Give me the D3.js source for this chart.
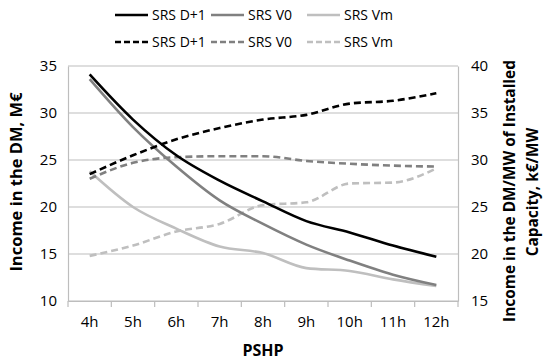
<!DOCTYPE html>
<meta charset="utf-8">
<script src="https://d3js.org/d3.v7.min.js"></script>
<style>
  body { margin: 0; background: #fff; }
  text { font-family: "Open Sans", "Liberation Sans", sans-serif; fill: #000; }
</style>
<div id="chart"></div>
<script>

// categories
var hours = ["4h", "5h", "6h", "7h", "8h", "9h", "10h", "11h", "12h"]

// income in the DM, M€ (left axis)
var srsD1 = [34.1, 29.3, 25.5, 22.8, 20.6, 18.5, 17.3, 15.9, 14.7]
var srsV0 = [33.6, 28.5, 24.3, 20.7, 18.2, 16.0, 14.3, 12.8, 11.7]
var srsVm = [23.8, 20.0, 17.7, 15.8, 15.1, 13.5, 13.2, 12.3, 11.6]

// income per MW of installed capacity, k€/MW (right axis)
var srsD1mw = [28.5, 30.5, 32.2, 33.4, 34.3, 34.8, 36.0, 36.3, 37.1]
var srsV0mw = [28.0, 29.7, 30.3, 30.4, 30.4, 29.9, 29.6, 29.4, 29.3]
var srsVmmw = [19.8, 20.9, 22.4, 23.2, 25.2, 25.5, 27.5, 27.6, 29.1]

var leftTicks = [10, 15, 20, 25, 30, 35]
var rightTicks = [15, 20, 25, 30, 35, 40]

var width = 550, height = 363
var m = { left: 68, right: 458, top: 66, bottom: 301 }

var svg = d3.select("#chart").append("svg")
  .attr("width", width)
  .attr("height", height)

var x = d3.scaleBand().domain(hours).range([m.left, m.right])
var yL = d3.scaleLinear().domain([10, 35]).range([m.bottom, m.top])
var yR = d3.scaleLinear().domain([15, 40]).range([m.bottom, m.top])

var gridColor = "#bdbdbd"

// gridlines
svg.append("g").selectAll("line")
  .data(leftTicks)
  .enter().append("line")
    .attr("x1", m.left).attr("x2", m.right)
    .attr("y1", function(d){ return yL(d) })
    .attr("y2", function(d){ return yL(d) })
    .attr("stroke", gridColor)
    .attr("stroke-width", 1.2)

// left axis
var gl = svg.append("g").attr("transform", "translate(" + m.left + ",0)")
  .call(d3.axisLeft(yL).tickValues(leftTicks).tickSize(0).tickPadding(11))
gl.select(".domain").attr("stroke", gridColor).attr("stroke-width", 1.2)
gl.selectAll("text").style("font-size", "15px").style("font-family", "'Open Sans', sans-serif")

// right axis
var gr = svg.append("g").attr("transform", "translate(" + m.right + ",0)")
  .call(d3.axisRight(yR).tickValues(rightTicks).tickSize(0).tickPadding(13))
gr.select(".domain").attr("stroke", gridColor).attr("stroke-width", 1.2)
gr.selectAll("text").style("font-size", "15px").style("font-family", "'Open Sans', sans-serif")

// bottom axis
var gb = svg.append("g").attr("transform", "translate(0," + m.bottom + ")")
  .call(d3.axisBottom(x).tickSize(0).tickPadding(15))
gb.select(".domain").attr("stroke", gridColor).attr("stroke-width", 1.2)
gb.selectAll("text").style("font-size", "15px").style("font-family", "'Open Sans', sans-serif")
svg.append("g").selectAll("line")
  .data(d3.range(hours.length + 1))
  .enter().append("line")
    .attr("x1", function(i){ return m.left + i * x.bandwidth() })
    .attr("x2", function(i){ return m.left + i * x.bandwidth() })
    .attr("y1", m.bottom).attr("y2", m.bottom + 6)
    .attr("stroke", gridColor).attr("stroke-width", 1.2)

// series
var series = [
  { name: "SRS D+1", values: srsD1, scale: yL, color: "#000000", dash: null },
  { name: "SRS V0", values: srsV0, scale: yL, color: "#808080", dash: null },
  { name: "SRS Vm", values: srsVm, scale: yL, color: "#bfbfbf", dash: null },
  { name: "SRS D+1", values: srsD1mw, scale: yR, color: "#000000", dash: "7,4" },
  { name: "SRS V0", values: srsV0mw, scale: yR, color: "#808080", dash: "7,4" },
  { name: "SRS Vm", values: srsVmmw, scale: yR, color: "#bfbfbf", dash: "7,4" }
]

var drawOrder = [5, 2, 4, 1, 3, 0]
drawOrder.forEach(function(i){
  var s = series[i]
  var line = d3.line()
    .x(function(d, j){ return x(hours[j]) + x.bandwidth() / 2 })
    .y(function(d){ return s.scale(d) })
    .curve(d3.curveMonotoneX)
  svg.append("path")
    .datum(s.values)
    .attr("d", line)
    .attr("fill", "none")
    .attr("stroke", s.color)
    .attr("stroke-width", 2.6)
    .attr("stroke-dasharray", s.dash)
})

// legend
var legX = [115, 211, 307]
series.forEach(function(s, i){
  var lx = legX[i % 3], ly = i < 3 ? 15 : 42
  svg.append("line")
    .attr("x1", lx).attr("x2", lx + 33)
    .attr("y1", ly).attr("y2", ly)
    .attr("stroke", s.color)
    .attr("stroke-width", 2.6)
    .attr("stroke-dasharray", s.dash ? "6,3" : null)
  svg.append("text")
    .attr("x", lx + 37).attr("y", ly + 5)
    .style("font-size", "14px")
    .text(s.name)
})

// axis titles
svg.append("text")
  .attr("x", 263).attr("y", 356)
  .attr("text-anchor", "middle")
  .style("font-size", "16px").style("font-weight", "bold")
  .text("PSHP")

svg.append("text")
  .attr("transform", "translate(22,182) rotate(-90)")
  .attr("text-anchor", "middle")
  .style("font-size", "16.5px").style("font-weight", "bold")
  .text("Income in the DM, M€")

svg.append("text")
  .attr("transform", "translate(515,191) rotate(-90)")
  .attr("text-anchor", "middle")
  .style("font-size", "15.4px").style("font-weight", "bold")
  .text("Income in the DM/MW of Installed")

svg.append("text")
  .attr("transform", "translate(538,192) rotate(-90)")
  .attr("text-anchor", "middle")
  .style("font-size", "15.4px").style("font-weight", "bold")
  .text("Capacity, k€/MW")
</script>
